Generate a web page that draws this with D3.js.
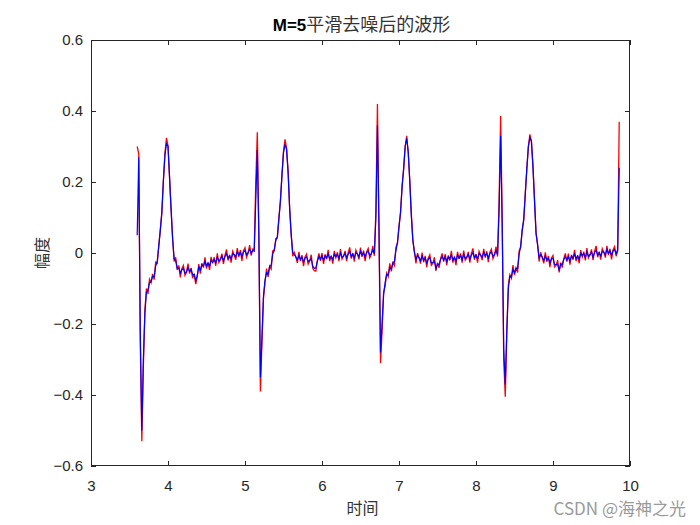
<!DOCTYPE html>
<html><head><meta charset="utf-8">
<script src="https://cdn.jsdelivr.net/npm/d3@7"></script>
<style>body{margin:0;background:#fff}svg{display:block}</style>
</head><body><div id="chart"></div>
<script>
// ---- data ----
const title = "M=5平滑去噪后的波形";
const xLabel = "时间";
const yLabel = "幅度";
const watermark = "CSDN @海神之光";
const xTicks = [3,4,5,6,7,8,9,10];
const yTicks = [-0.6,-0.4,-0.2,0,0.2,0.4,0.6];
const startTime = 3.6;      // first sample time
const sampleStep = 0.02;    // sampling interval
// noisy signal (red)
const noisy = [
.30,.28,-.25,-.53,-.32,-.16,-.10,-.115,-.074,-.084,-.059,-.075,-.026,-.029,.019,.066,.112,.204,.281,.324,
.302,.211,.126,.04,-.024,-.012,-.048,-.035,-.069,-.044,-.035,-.063,-.055,-.03,-.058,-.042,-.071,-.058,-.088,-.067,
-.031,-.058,-.029,-.041,-.012,-.044,-.027,-.048,-.011,-.029,-.012,-.036,-.001,-.027,-.019,-.002,-.031,-.006,.01,-.021,
-.005,-.027,.005,-.005,-.019,.014,-.011,.008,-.022,.006,.015,-.012,-.001,.022,-.007,.011,.01,.20,.34,.05,
-.39,-.25,-.128,-.081,-.044,-.067,-.037,-.045,.006,.006,.041,.042,.10,.145,.219,.287,.32,.294,.231,.124,
.053,-.009,.002,-.011,-.028,.003,-.023,-.006,-.037,-.011,-.003,-.031,-.023,-.005,-.043,-.05,-.051,-.021,-.001,-.022,
0,-.031,-.004,-.018,.009,-.023,-.008,-.03,.006,-.013,.002,-.023,.011,-.017,-.009,.006,-.023,.001,.016,-.016,
0,-.024,.008,-.003,-.018,.015,-.011,.007,-.023,.004,.013,-.014,-.004,.02,-.008,.12,.42,.05,-.31,-.22,
-.11,-.093,-.056,-.066,-.029,-.052,-.027,-.035,.016,.028,.076,.112,.19,.235,.299,.33,.281,.204,.111,.034,
.005,-.029,0,-.013,-.03,.001,-.026,-.008,-.04,-.014,-.005,-.035,-.029,-.012,-.05,-.027,-.042,-.016,-.001,-.024,
-.003,-.034,-.007,-.021,.006,-.027,-.011,-.034,.003,-.017,-.001,-.027,.007,-.02,-.013,.003,-.027,-.002,.013,-.019,
-.003,-.027,.005,-.006,-.02,.012,-.013,.005,-.026,.002,.011,-.016,-.006,.018,-.01,.15,.386,.10,-.30,-.405,
-.225,-.09,-.061,-.071,-.034,-.062,-.042,-.055,.006,.016,.066,.092,.17,.235,.299,.334,.311,.244,.151,.054,
.025,-.024,.002,-.012,-.029,.002,-.025,-.008,-.04,-.014,-.007,-.039,-.035,-.02,-.055,-.027,-.041,-.016,-.001,-.024,
-.002,-.033,-.005,-.019,.009,-.023,-.007,-.029,.008,-.011,.004,-.021,.014,-.014,-.006,.01,-.02,.005,.02,-.012,
.004,-.019,.012,.002,-.013,.02,-.006,.012,-.018,.009,.018,-.009,.005,.37
];
// smoothed signal (blue)
const smoothed = [
.05,.27,-.22,-.50,-.30,-.17,-.11,-.104,-.083,-.081,-.065,-.067,-.037,-.024,.02,.063,.116,.202,.275,.308,
.301,.216,.122,.04,-.016,-.022,-.043,-.041,-.057,-.047,-.043,-.056,-.053,-.041,-.052,-.046,-.062,-.06,-.078,-.063,
-.039,-.048,-.033,-.037,-.024,-.037,-.028,-.037,-.02,-.026,-.018,-.028,-.012,-.022,-.018,-.009,-.022,-.01,-.002,-.015,
-.008,-.016,-.002,-.005,-.011,.004,-.006,.002,-.01,.003,.007,-.005,.001,.011,-.001,.007,.005,.15,.29,.05,
-.35,-.24,-.12,-.077,-.056,-.06,-.038,-.034,-.003,.009,.035,.046,.094,.148,.22,.283,.306,.292,.225,.127,
.051,.002,-.005,-.011,-.02,-.007,-.018,-.012,-.025,-.014,-.011,-.024,-.021,-.016,-.037,-.043,-.042,-.023,-.01,-.018,
-.008,-.021,-.008,-.014,-.003,-.016,-.009,-.019,-.003,-.01,-.004,-.015,0,-.012,-.008,-.001,-.014,-.003,.004,-.01,
-.003,-.013,.001,-.003,-.01,.005,-.006,.001,-.011,.001,.005,-.007,-.002,.009,-.002,.10,.36,.08,-.28,-.20,
-.118,-.083,-.06,-.062,-.041,-.045,-.028,-.024,.007,.029,.073,.116,.184,.238,.30,.323,.286,.202,.105,.037,
.002,-.018,-.007,-.013,-.022,-.009,-.021,-.014,-.028,-.017,-.013,-.028,-.027,-.023,-.044,-.031,-.033,-.018,-.01,-.02,
-.011,-.024,-.011,-.017,-.006,-.02,-.012,-.023,-.006,-.014,-.007,-.019,-.004,-.015,-.012,-.004,-.018,-.006,.001,-.013,
-.006,-.016,-.002,-.006,-.012,.002,-.008,-.001,-.014,-.001,.003,-.009,-.004,.007,-.004,.12,.33,.08,-.27,-.37,
-.22,-.10,-.065,-.067,-.046,-.055,-.043,-.044,-.003,.019,.063,.096,.164,.238,.30,.326,.316,.242,.145,.057,
.022,-.013,-.005,-.012,-.021,-.008,-.02,-.014,-.028,-.017,-.015,-.032,-.033,-.031,-.049,-.031,-.032,-.018,-.01,-.02,
-.01,-.023,-.009,-.015,-.003,-.016,-.008,-.018,-.001,-.008,-.002,-.013,.003,-.009,-.005,.003,-.011,.001,.008,-.006,
.001,-.008,.005,.002,-.005,.01,-.001,.006,-.006,.006,.01,-.002,.01,.24
];

// ---- chart ----
const W = 700, H = 525;
const m = {left: 91, right: 70, top: 40, bottom: 59};
const svg = d3.select("#chart").append("svg").attr("width", W).attr("height", H);
const x = d3.scaleLinear().domain([3, 10]).range([m.left, W - m.right]);
const y = d3.scaleLinear().domain([-0.6, 0.6]).range([H - m.bottom, m.top]);
const axisColor = "#262626";
const latin = "Helvetica, Arial, 'Liberation Sans', sans-serif";
const cjk = "'Noto Sans CJK SC', sans-serif";

const times = noisy.map((_, i) => startTime + i * sampleStep);

svg.append("clipPath").attr("id", "clip").append("rect")
  .attr("x", m.left).attr("y", m.top)
  .attr("width", W - m.left - m.right).attr("height", H - m.top - m.bottom);

const line = d3.line().x((d, i) => x(times[i])).y(d => y(d));
const plot = svg.append("g").attr("clip-path", "url(#clip)");
plot.append("path").datum(noisy).attr("d", line)
  .attr("fill", "none").attr("stroke", "#ff0000").attr("stroke-width", 1.3);
plot.append("path").datum(smoothed).attr("d", line)
  .attr("fill", "none").attr("stroke", "#0000ff").attr("stroke-width", 1.2);

// axes (ticks inside, mirrored box)
function styleAxis(g) {
  g.select(".domain").remove();
  g.selectAll("line").attr("stroke", axisColor);
  g.selectAll("text").attr("fill", axisColor).attr("font-family", latin).attr("font-size", 15);
}
const tl = 5;
svg.append("g").attr("transform", `translate(0,${H - m.bottom})`)
  .call(d3.axisBottom(x).tickValues(xTicks).tickFormat(d3.format("d")).tickSizeInner(-tl).tickSizeOuter(0).tickPadding(14))
  .call(styleAxis);
svg.append("g").attr("transform", `translate(0,${m.top})`)
  .call(d3.axisTop(x).tickValues(xTicks).tickFormat("").tickSizeInner(-tl).tickSizeOuter(0))
  .call(styleAxis);
svg.append("g").attr("transform", `translate(${m.left},0)`)
  .call(d3.axisLeft(y).tickValues(yTicks).tickFormat(d => d === 0 ? "0" : d3.format(".1f")(d)).tickSizeInner(-tl).tickSizeOuter(0).tickPadding(8))
  .call(styleAxis);
svg.append("g").attr("transform", `translate(${W - m.right},0)`)
  .call(d3.axisRight(y).tickValues(yTicks).tickFormat("").tickSizeInner(-tl).tickSizeOuter(0))
  .call(styleAxis);

svg.append("rect").attr("x", m.left + 0.5).attr("y", m.top + 0.5)
  .attr("width", W - m.left - m.right - 1).attr("height", H - m.top - m.bottom - 1)
  .attr("fill", "none").attr("stroke", axisColor).attr("stroke-width", 1);

// title
const t = svg.append("text").attr("x", (m.left + W - m.right) / 2 + 1).attr("y", 31)
  .attr("text-anchor", "middle").attr("fill", "#000");
t.append("tspan").attr("font-family", latin).attr("font-size", 17).attr("font-weight", "bold").text(title.slice(0, 3));
t.append("tspan").attr("font-family", cjk).attr("font-size", 18).attr("fill", "#333").text(title.slice(3));

// axis labels
svg.append("text").attr("x", (m.left + W - m.right) / 2 + 2).attr("y", 514)
  .attr("text-anchor", "middle").attr("font-family", cjk).attr("font-size", 16).attr("fill", "#333").text(xLabel);
svg.append("text").attr("transform", `translate(48,${(m.top + H - m.bottom) / 2}) rotate(-90)`)
  .attr("text-anchor", "middle").attr("font-family", cjk).attr("font-size", 16).attr("fill", "#333").text(yLabel);

// watermark
svg.append("text").attr("x", 686).attr("y", 515).attr("text-anchor", "end")
  .attr("font-family", cjk).attr("font-size", 17).attr("fill", "#9a9a9a").text(watermark);
</script></body></html>
